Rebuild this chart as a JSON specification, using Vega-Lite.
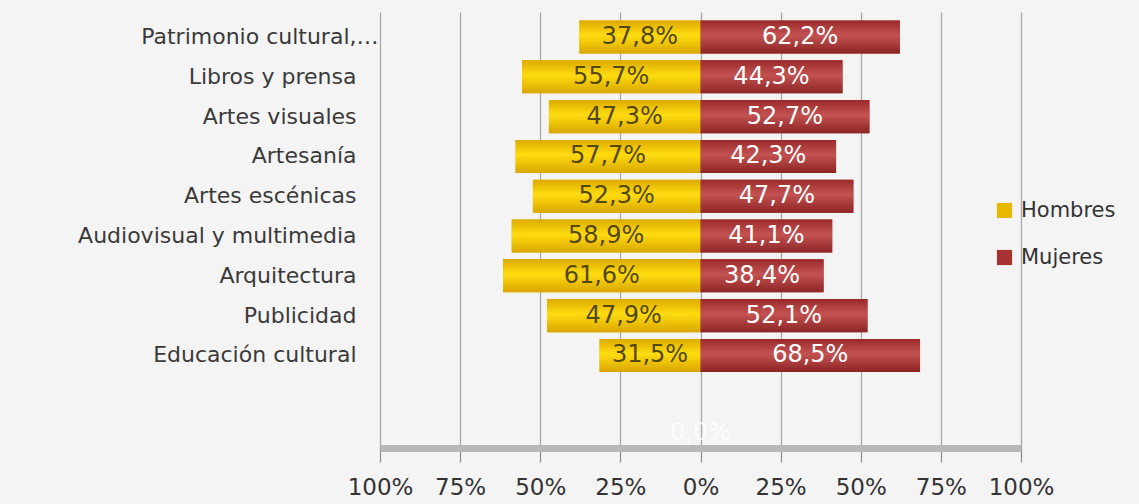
{
  "$schema": "https://vega.github.io/schema/vega-lite/v6.json",
  "width": 641,
  "height": 436,
  "autosize": {"type": "none"},
  "padding": {"left": 380, "top": 12, "right": 118, "bottom": 56},
  "background": "#f4f4f4",
  "config": {"view": {"stroke": null}, "font": "DejaVu Sans"},
  "data": {
    "values": [
      {"cat": "Patrimonio cultural,…", "sexo": "Hombres", "v": -37.8, "lab": "37,8%"},
      {"cat": "Patrimonio cultural,…", "sexo": "Mujeres", "v": 62.2, "lab": "62,2%"},
      {"cat": "Libros y prensa", "sexo": "Hombres", "v": -55.7, "lab": "55,7%"},
      {"cat": "Libros y prensa", "sexo": "Mujeres", "v": 44.3, "lab": "44,3%"},
      {"cat": "Artes visuales", "sexo": "Hombres", "v": -47.3, "lab": "47,3%"},
      {"cat": "Artes visuales", "sexo": "Mujeres", "v": 52.7, "lab": "52,7%"},
      {"cat": "Artesanía", "sexo": "Hombres", "v": -57.7, "lab": "57,7%"},
      {"cat": "Artesanía", "sexo": "Mujeres", "v": 42.3, "lab": "42,3%"},
      {"cat": "Artes escénicas", "sexo": "Hombres", "v": -52.3, "lab": "52,3%"},
      {"cat": "Artes escénicas", "sexo": "Mujeres", "v": 47.7, "lab": "47,7%"},
      {"cat": "Audiovisual y multimedia", "sexo": "Hombres", "v": -58.9, "lab": "58,9%"},
      {"cat": "Audiovisual y multimedia", "sexo": "Mujeres", "v": 41.1, "lab": "41,1%"},
      {"cat": "Arquitectura", "sexo": "Hombres", "v": -61.6, "lab": "61,6%"},
      {"cat": "Arquitectura", "sexo": "Mujeres", "v": 38.4, "lab": "38,4%"},
      {"cat": "Publicidad", "sexo": "Hombres", "v": -47.9, "lab": "47,9%"},
      {"cat": "Publicidad", "sexo": "Mujeres", "v": 52.1, "lab": "52,1%"},
      {"cat": "Educación cultural", "sexo": "Hombres", "v": -31.5, "lab": "31,5%"},
      {"cat": "Educación cultural", "sexo": "Mujeres", "v": 68.5, "lab": "68,5%"},
      {"cat": " ", "sexo": "Hombres", "v": 0, "lab": "0,0%"}
    ]
  },
  "transform": [{"calculate": "datum.v/2", "as": "mid"}],
  "encoding": {
    "y": {
      "field": "cat",
      "type": "nominal",
      "sort": ["Patrimonio cultural,…", "Libros y prensa", "Artes visuales", "Artesanía", "Artes escénicas", "Audiovisual y multimedia", "Arquitectura", "Publicidad", "Educación cultural", " "],
      "scale": {"paddingInner": 0.17, "paddingOuter": 0.5625, "align": 0.19},
      "axis": {
        "title": null,
        "ticks": false,
        "domain": false,
        "grid": false,
        "labelFontSize": 22,
        "labelColor": "#3a3a3a",
        "labelPadding": {"condition": {"test": "datum.value == 'Patrimonio cultural,…'", "value": 2}, "value": 24},
        "labelLimit": 400
      }
    }
  },
  "layer": [
    {
      "mark": {"type": "bar"},
      "encoding": {
        "x": {
          "field": "v",
          "type": "quantitative",
          "scale": {"domain": [-100, 100]},
          "axis": {
            "title": null,
            "values": [-100, -75, -50, -25, 0, 25, 50, 75, 100],
            "labelExpr": "abs(datum.value) + '%'",
            "labelOverlap": false,
            "labelFlush": false,
            "grid": true,
            "gridColor": "#a8a8a8",
            "gridWidth": 1.3,
            "domainColor": "#b8b8b8",
            "domainWidth": 7,
            "tickColor": "#8a8a8a",
            "tickSize": 14,
            "tickWidth": 1.2,
            "labelFontSize": 23,
            "labelColor": "#333333",
            "labelPadding": 14
          }
        },
        "x2": {"datum": 0},
        "color": {
          "field": "sexo",
          "type": "nominal",
          "scale": {"domain": ["Hombres", "Mujeres"], "range": ["#e8b800", "#a83232"]},
          "legend": {
            "orient": "none",
            "legendX": 614,
            "legendY": 188,
            "title": null,
            "symbolType": "square",
            "symbolSize": 230,
            "symbolStrokeWidth": 0,
            "labelFontSize": 21,
            "labelColor": "#333333",
            "labelOffset": 6,
            "rowPadding": 25,
            "padding": 0
          }
        }
      }
    },
    {
      "transform": [{"filter": "datum.sexo == 'Hombres'"}],
      "mark": {
        "type": "bar",
        "fill": {
          "gradient": "linear", "x1": 0, "y1": 0, "x2": 0, "y2": 1,
          "stops": [
            {"offset": 0, "color": "#dcaa00"},
            {"offset": 0.45, "color": "#ffdc10"},
            {"offset": 1, "color": "#d9a600"}
          ]
        }
      },
      "encoding": {
        "x": {"field": "v", "type": "quantitative"},
        "x2": {"datum": 0}
      }
    },
    {
      "transform": [{"filter": "datum.sexo == 'Mujeres'"}],
      "mark": {
        "type": "bar",
        "fill": {
          "gradient": "linear", "x1": 0, "y1": 0, "x2": 0, "y2": 1,
          "stops": [
            {"offset": 0, "color": "#9a2a2a"},
            {"offset": 0.45, "color": "#c45252"},
            {"offset": 1, "color": "#8c2424"}
          ]
        }
      },
      "encoding": {
        "x": {"field": "v", "type": "quantitative"},
        "x2": {"datum": 0}
      }
    },
    {
      "transform": [{"filter": "datum.sexo == 'Hombres' && datum.v != 0"}],
      "mark": {"type": "text", "fontSize": 24, "color": "#54470f"},
      "encoding": {
        "x": {"field": "mid", "type": "quantitative"},
        "text": {"field": "lab"}
      }
    },
    {
      "transform": [{"filter": "datum.sexo == 'Mujeres'"}],
      "mark": {"type": "text", "fontSize": 24, "color": "#ffffff"},
      "encoding": {
        "x": {"field": "mid", "type": "quantitative"},
        "text": {"field": "lab"}
      }
    },
    {
      "transform": [{"filter": "datum.v == 0"}],
      "mark": {"type": "text", "fontSize": 24, "color": "#ffffff", "opacity": 0.8, "dy": 38},
      "encoding": {
        "x": {"field": "mid", "type": "quantitative"},
        "text": {"field": "lab"}
      }
    }
  ]
}
